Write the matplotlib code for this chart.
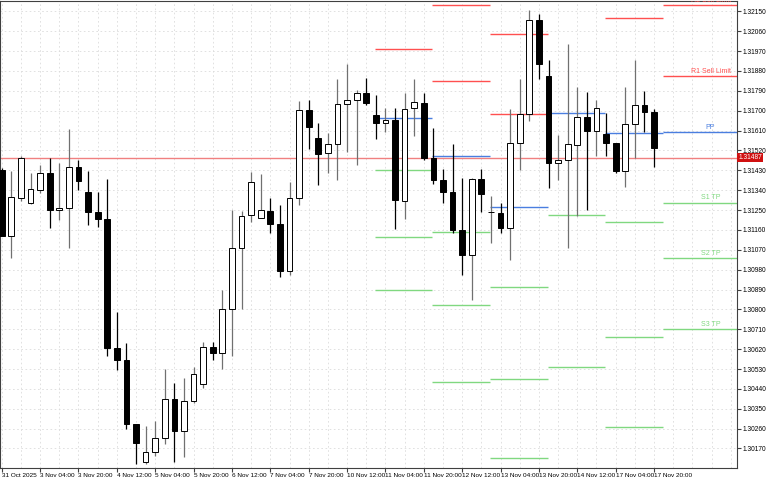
import numpy as np
import matplotlib
matplotlib.use("Agg")
import matplotlib.pyplot as plt

plt.rcParams["font.family"] = ["Liberation Sans", "DejaVu Sans"]

# H4 candles, prices in 1e-5 units
opens = [131431, 131133, 131306, 131283, 131343, 131417, 131251, 131261, 131444, 131334,
         131243, 131211, 130623, 130572, 130283, 130111, 130155, 130217, 130392, 130250,
         130383, 130462, 130631, 130602, 130801, 131077, 131227, 131216, 131246, 131189,
         130972, 131304, 131702, 131578, 131508, 131548, 131729, 131748, 131782, 131681,
         131645, 131660, 131292, 131711, 131735, 131488, 131385, 131332, 131159, 131047,
         131390, 131239, 131236, 131168, 131556, 131684, 132111, 131859, 131462, 131476,
         131544, 131671, 131607, 131594, 131553, 131427, 131639, 131725, 131696]
closes = [131133, 131310, 131485, 131345, 131417, 131250, 131261, 131446, 131382, 131243,
          131211, 130623, 130572, 130283, 130193, 130155, 130217, 130394, 130250, 130383,
          130507, 130631, 130602, 130801, 131077, 131224, 131379, 131250, 131189, 130975,
          131304, 131702, 131627, 131506, 131548, 131729, 131748, 131782, 131734, 131645,
          131658, 131295, 131709, 131740, 131485, 131385, 131332, 131159, 131047, 131390,
          131325, 131243, 131168, 131556, 131684, 132111, 131913, 131462, 131476, 131548,
          131671, 131607, 131714, 131556, 131427, 131639, 131725, 131696, 131533]
highs = [131440, 131427, 131494, 131418, 131455, 131485, 131465, 131616, 131476, 131427,
         131334, 131390, 130789, 130646, 130283, 130273, 130296, 130530, 130465, 130489,
         130540, 130653, 130653, 130890, 131250, 131246, 131423, 131415, 131304, 131274,
         131378, 131744, 131748, 131646, 131601, 131843, 131910, 131793, 131847, 131771,
         131714, 131714, 131779, 131843, 131779, 131623, 131438, 131551, 131394, 131397,
         131435, 131314, 131284, 131707, 131843, 132156, 132137, 131930, 131589, 132004,
         131808, 131785, 131748, 131691, 131556, 131808, 131929, 131790, 131707]
lows = [131133, 131035, 131292, 131279, 131326, 131171, 131204, 131080, 131343, 131183,
        131175, 130587, 130525, 130258, 130100, 130100, 130137, 130190, 130110, 130133,
        130374, 130446, 130570, 130528, 130590, 130804, 131198, 131216, 131148, 130948,
        130957, 131274, 131526, 131363, 131420, 131385, 131515, 131455, 131726, 131574,
        131605, 131164, 131209, 131585, 131476, 131370, 131284, 131148, 130957, 130843,
        131239, 131103, 131148, 131023, 131431, 131654, 131843, 131352, 131387, 131076,
        131224, 131250, 131495, 131495, 131420, 131355, 131488, 131605, 131447]

time_labels = ["31 Oct 2025", "3 Nov 04:00", "3 Nov 20:00", "4 Nov 12:00", "5 Nov 04:00",
               "5 Nov 20:00", "6 Nov 12:00", "7 Nov 04:00", "7 Nov 20:00", "10 Nov 12:00",
               "11 Nov 04:00", "11 Nov 20:00", "12 Nov 12:00", "13 Nov 04:00", "13 Nov 20:00",
               "14 Nov 12:00", "17 Nov 04:00", "17 Nov 20:00"]

# daily pivot segments (start candle), levels; None = off chart
seg_start = [38.9, 44.9, 50.9, 56.9, 62.9, 68.9]
r2_levels = [None, 1.32179, 1.32046, None, 1.32121, 1.32177]
r1_levels = [1.31979, 1.31834, 1.31684, None, None, 1.31857]
pp_levels = [1.31669, 1.31495, 1.31264, 1.31691, 1.31597, 1.31604]
s1_levels = [1.31430, 1.31151, 1.30903, 1.31227, 1.31195, 1.31284]
s2_levels = [1.31128, 1.30820, 1.30484, 1.30540, 1.30674, 1.31033]
s3_levels = [1.30887, 1.30472, 1.30125, None, 1.30267, 1.30712]
current_price = 1.31487

RED = "#ff5050"
GREEN = "#80d880"
BLUE = "#4a7ee0"

o = np.array(opens) / 1e5
c = np.array(closes) / 1e5
h = np.array(highs) / 1e5
l = np.array(lows) / 1e5
x = np.arange(len(o))
x_left, x_right = -0.18, 76.65
y_lo, y_hi = 1.30083, 1.32197

fig = plt.figure(figsize=(7.68, 4.8), dpi=100)
ax = fig.add_axes([0.0, 12.3 / 480, 737 / 768, 466.7 / 480])
ax.set_xlim(x_left, x_right)
ax.set_ylim(y_lo, y_hi)

price_ticks = np.round(np.arange(1.30170, 1.32151, 0.0009), 5)
for p in price_ticks:
    ax.axhline(p, color="#dcdcdc", lw=0.6, ls=(0, (2, 3)), zorder=0)
for i in range(0, 78, 2):
    ax.axvline(i, color="#dcdcdc", lw=0.6, ls=(0, (2, 3)), zorder=0)

ax.axhline(current_price, color="#f08080", lw=1.0, zorder=1)

ends = seg_start[1:] + [x_right]
for levels, col in [(r2_levels, RED), (r1_levels, RED), (pp_levels, BLUE),
                    (s1_levels, GREEN), (s2_levels, GREEN), (s3_levels, GREEN)]:
    for x0, x1, v in zip(seg_start, ends, levels):
        if v is not None:
            ax.hlines(v, x0, x1, color=col, lw=1.0, zorder=1)

lab_x = 73.9
for v, txt, col in [(r2_levels[-1], "R2 Sell Limit", RED), (r1_levels[-1], "R1 Sell Limit", RED),
                    (pp_levels[-1], "PP", BLUE), (s1_levels[-1], "S1 TP", GREEN),
                    (s2_levels[-1], "S2 TP", GREEN), (s3_levels[-1], "S3 TP", GREEN)]:
    ax.text(lab_x, v + 0.00006, txt, color=col, fontsize=5, ha="center", va="bottom",
            clip_on=True)

w = 0.6
for xi, oi, ci, hi, li in zip(x, o, c, h, l):
    bull = ci >= oi
    ax.vlines(xi, li, hi, color="#707070" if bull else "black", lw=0.9, zorder=2)
    lo_b, hi_b = min(oi, ci), max(oi, ci)
    ax.add_patch(plt.Rectangle((xi - w / 2, lo_b), w, max(hi_b - lo_b, 0.000015),
                               facecolor="white" if bull else "black",
                               edgecolor="black", lw=0.7, zorder=3))

ax.yaxis.tick_right()
ax.set_yticks(price_ticks)
ax.set_yticklabels([f"{p:.5f}" for p in price_ticks], fontsize=4.8)
ax.tick_params(axis="y", length=3, pad=1, color="#404040")
ax.set_xticks(np.arange(0, 69, 4))
ax.set_xticklabels(time_labels, fontsize=4.6, ha="left")
ax.tick_params(axis="x", length=3, pad=1, color="#404040")
for s in ax.spines.values():
    s.set_color("#404040")
    s.set_linewidth(0.8)

ax.text(1.002, (current_price - y_lo) / (y_hi - y_lo), f"{current_price:.5f}",
        transform=ax.transAxes, fontsize=4.8, color="white", va="center", ha="left",
        bbox=dict(boxstyle="square,pad=0.15", facecolor="#d01010", edgecolor="none"))

fig.savefig("out.png", dpi=100)
